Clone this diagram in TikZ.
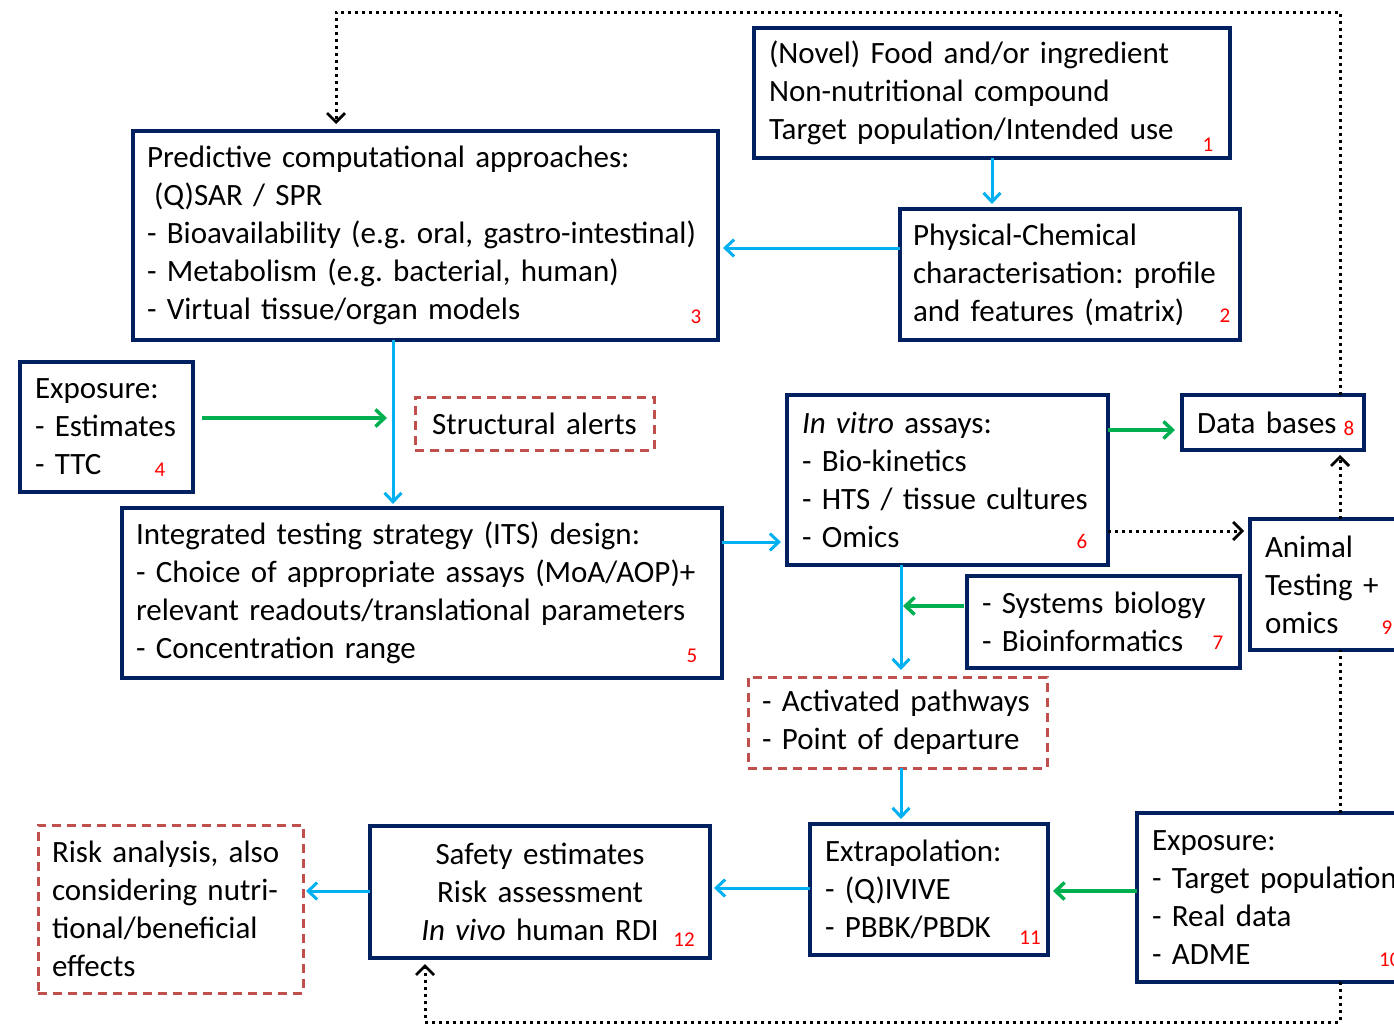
\documentclass[tikz,border=0pt]{standalone}
\usepackage{fontspec}
\setmainfont{Carlito}
\usetikzlibrary{arrows.meta}
\definecolor{navy}{RGB}{0,32,96}
\definecolor{skyb}{RGB}{0,176,240}
\definecolor{grn}{RGB}{0,176,80}
\definecolor{redd}{RGB}{192,80,77}
\definecolor{numred}{RGB}{255,0,0}
\frenchspacing
\hyphenpenalty=10000
\exhyphenpenalty=10000
\begin{document}
\begin{tikzpicture}[x=1pt,y=-1pt,
  txt/.style={font=\fontsize{31}{38}\selectfont},
  box/.style={txt, draw=navy, line width=4.5pt, fill=white, anchor=north west, inner ysep=0pt, outer sep=0pt, align=left},
  dbox/.style={txt, draw=redd, line width=3pt, dash pattern=on 9pt off 6pt, fill=white, anchor=north west, inner ysep=0pt, outer sep=0pt, align=left},
  num/.style={text=numred, font=\fontsize{21}{25}\selectfont, inner sep=0pt},
  barrow/.style={draw=skyb, line width=3pt, -{Straight Barb[length=9pt,width=17pt,line width=3pt]}},
  garrow/.style={draw=grn, line width=3.5pt, -{Straight Barb[length=9pt,width=17pt,line width=3.5pt]}},
  darrow/.style={draw=black, line width=3pt, dash pattern=on 3pt off 4pt, -{Straight Barb[length=9pt,width=18pt,line width=2.8pt]}},
  dline/.style={draw=black, line width=3pt, dash pattern=on 3pt off 4pt},
]
\clip (0,0) rectangle (1394,1026);
\fill[white] (0,0) rectangle (1394,1026);

% boxes
\node[box, minimum width=476pt, minimum height=130pt, text width=446pt, inner xsep=15pt] (b1) at (754,28)
  {(Novel) Food and/or ingredient\\Non-nutritional compound\\Target population/Intended use};
\node[box, minimum width=340pt, minimum height=131pt, text width=314pt, inner xsep=13pt] (b2) at (900,209)
  {Physical-Chemical\\characterisation: profile\\and features (matrix)};
\node[box, minimum width=585pt, minimum height=209pt, text width=557pt, inner xsep=14pt] (b3) at (133,131)
  {Predictive computational approaches:\\\hspace*{7pt}(Q)SAR / SPR\\- Bioavailability (e.g. oral, gastro-intestinal)\\- Metabolism (e.g. bacterial, human)\\- Virtual tissue/organ models};
\node[box, minimum width=173pt, minimum height=130pt, text width=143pt, inner xsep=15pt] (b4) at (20,362)
  {Exposure:\\- Estimates\\- TTC};
\node[dbox, minimum width=239pt, minimum height=53pt, text width=209pt, inner xsep=15pt, align=center] (sa) at (415,397)
  {Structural alerts};
\node[box, minimum width=600pt, minimum height=170pt, text width=572pt, inner xsep=14pt] (b5) at (122,508)
  {Integrated testing strategy (ITS) design:\\- Choice of appropriate assays (MoA/AOP)+\\relevant readouts/translational parameters\\- Concentration range};
\node[box, minimum width=321pt, minimum height=170pt, text width=291pt, inner xsep=15pt] (b6) at (787,395)
  {\textit{In vitro} assays:\\- Bio-kinetics\\- HTS / tissue cultures\\- Omics};
\node[box, minimum width=182pt, minimum height=55pt, text width=152pt, inner xsep=15pt] (b8) at (1182,395)
  {Data bases};
\node[box, minimum width=170pt, minimum height=131pt, text width=140pt, inner xsep=15pt] (b9) at (1250,519)
  {Animal\\Testing +\\omics};
\node[box, minimum width=273pt, minimum height=92pt, text width=243pt, inner xsep=15pt] (b7) at (967,576)
  {- Systems biology\\- Bioinformatics};
\node[dbox, minimum width=299pt, minimum height=91pt, text width=271pt, inner xsep=14pt] (act) at (748,677)
  {- Activated pathways\\- Point of departure};
\node[box, minimum width=238pt, minimum height=131pt, text width=208pt, inner xsep=15pt] (b11) at (810,824)
  {Extrapolation:\\- (Q)IVIVE\\- PBBK/PBDK};
\node[box, minimum width=290pt, minimum height=169pt, text width=260pt, inner xsep=15pt] (b10) at (1137,813)
  {Exposure:\\- Target population\\- Real data\\- ADME};
\node[box, minimum width=340pt, minimum height=132pt, text width=312pt, inner xsep=14pt, align=center] (b12) at (370,826)
  {Safety estimates\\Risk assessment\\\textit{In vivo} human RDI};
\node[dbox, minimum width=265pt, minimum height=168pt, text width=237pt, inner xsep=14pt] (risk) at (38,825)
  {Risk analysis, also\\considering nutri-\\tional/beneficial\\effects};

% numbers
\node[num] (n1) at (1208,145) {1};
\node[num] (n2) at (1225,316) {2};
\node[num] (n3) at (696,317) {3};
\node[num] (n4) at (160,470) {4};
\node[num] (n5) at (692,656) {5};
\node[num] (n6) at (1082,541) {6};
\node[num] (n7) at (1218,643) {7};
\node[num] (n8) at (1349,428) {8};
\node[num] (n9) at (1387,628) {9};
\node[num, anchor=west] (n10) at (1379,960) {10};
\node[num] (n11) at (1030,938) {11};
\node[num] (n12) at (684,940) {12};

% helper coordinates
\coordinate (y23) at (0,248);
\coordinate (x35) at (393,0);
\coordinate (y4) at (0,418);
\coordinate (y56) at (0,542);
\coordinate (y68) at (0,430);
\coordinate (y69) at (0,531);
\coordinate (x6) at (901,0);
\coordinate (y7) at (0,606);
\coordinate (y1011) at (0,891);
\coordinate (y1112) at (0,888);
\coordinate (y12r) at (0,891);
\coordinate (xd) at (1340,0);
\coordinate (dtop) at (1340,12);
\coordinate (dtopl) at (336,12);
\coordinate (dbot) at (1340,1022);
\coordinate (dbotl) at (425,1022);

% solid arrows
\draw[barrow] (b1.south) -- ([yshift=5pt]b1.south |- b2.north);
\draw[barrow] (b2.west |- y23) -- ([xshift=5pt]b3.east |- y23);
\draw[barrow] (b3.south -| x35) -- ([yshift=4pt]b5.north -| x35);
\draw[garrow, shorten <=9pt] (b4.east |- y4) -- ([xshift=-6pt]x35 |- y4);
\draw[barrow] (b5.east |- y56) -- ([xshift=-6pt]b6.west |- y56);
\draw[garrow] (b6.east |- y68) -- ([xshift=-7pt]b8.west |- y68);
\draw[barrow] (b6.south -| x6) -- ([yshift=7pt]act.north -| x6);
\draw[garrow, shorten <=3pt] (b7.west |- y7) -- ([xshift=2pt]x6 |- y7);
\draw[barrow] (act.south -| x6) -- ([yshift=5pt]b11.north -| x6);
\draw[garrow] (b10.west |- y1011) -- ([xshift=5pt]b11.east |- y1011);
\draw[barrow] (b11.west |- y1112) -- ([xshift=4pt]b12.east |- y1112);
\draw[barrow] (b12.west |- y12r) -- ([xshift=3pt]risk.east |- y12r);

% dotted connectors
\draw[darrow] (b6.east |- y69) -- ([xshift=-6pt]b9.west |- y69);
\draw[darrow] (b9.north -| xd) -- ([yshift=-5pt]b8.south -| xd);
\draw[dline] (b10.north -| xd) -- (b9.south -| xd);
\draw[darrow] (b8.north -| xd) -- (dtop) -- (dtopl) -- ([yshift=7pt]dtopl |- b3.north);
\draw[darrow] (b10.south -| xd) -- (dbot) -- (dbotl) -- ([yshift=-6pt]dbotl |- b12.south);
\end{tikzpicture}
\end{document}
